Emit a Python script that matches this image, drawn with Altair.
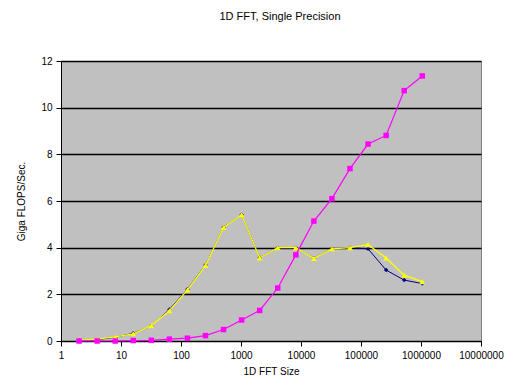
import altair as alt
import pandas as pd

sizes = [2**k for k in range(1, 21)]

magenta_vals = [0.0, 0.0, 0.0, 0.02, 0.03, 0.08, 0.12, 0.23, 0.49, 0.90,
                1.31, 2.27, 3.69, 5.14, 6.10, 7.39, 8.44, 8.81, 10.73, 11.36]
navy_vals = [0.03, 0.06, 0.16, 0.33, 0.64, 1.35, 2.22, 3.26, 4.88, 5.41,
             3.57, 4.00, 4.00, 3.55, 3.95, 4.00, 3.95, 3.04, 2.61, 2.46]
yellow_vals = [0.04, 0.08, 0.18, 0.31, 0.66, 1.30, 2.19, 3.24, 4.87, 5.41,
               3.56, 4.00, 4.00, 3.54, 3.95, 4.00, 4.13, 3.56, 2.82, 2.54]

x_ticks = [1, 10, 100, 1000, 10000, 100000, 1000000, 10000000]
y_ticks = [0, 2, 4, 6, 8, 10, 12]

FONT = "Liberation Sans"

x_scale = alt.Scale(type="log", domain=[1, 10000000])
y_scale = alt.Scale(domain=[0, 12])

x_axis = alt.Axis(values=x_ticks, format="d", title="1D FFT Size", grid=False,
                  domainColor="black", tickColor="black", tickSize=5,
                  labelFont=FONT, labelFontSize=10, labelColor="black",
                  labelPadding=4, labelFlush=False,
                  titleFont=FONT, titleFontSize=10, titleFontWeight="normal",
                  titleColor="black", titlePadding=6)
y_axis = alt.Axis(values=y_ticks, title="Giga FLOPS/Sec.", grid=True,
                  gridColor="black", gridWidth=1.4,
                  domainColor="black", tickColor="black", tickSize=5,
                  labelFont=FONT, labelFontSize=10, labelColor="black",
                  labelPadding=4,
                  titleFont=FONT, titleFontSize=10, titleFontWeight="normal",
                  titleColor="black", titlePadding=14)


def series(vals, color, shape, size, width):
    df = pd.DataFrame({"size": sizes, "gflops": vals})
    x = alt.X("size:Q", scale=x_scale, axis=x_axis)
    y = alt.Y("gflops:Q", scale=y_scale, axis=y_axis)
    base = alt.Chart(df).encode(x=x, y=y)
    line = base.mark_line(color=color, strokeWidth=width)
    pts = base.mark_point(shape=shape, filled=True, color=color, size=size, opacity=1)
    return line + pts


chart = alt.layer(
    series(navy_vals, "#000080", "diamond", 20, 1.0),
    series(yellow_vals, "#FFFF00", "triangle-up", 34, 1.3),
    series(magenta_vals, "#FF00FF", "square", 30, 1.2),
).properties(
    width=420,
    height=280,
    background="white",
    title=alt.TitleParams("1D FFT, Single Precision", font=FONT, fontSize=11,
                          fontWeight="normal", color="black", offset=34, dx=9),
    autosize=alt.AutoSizeParams(type="none"),
    padding={"left": 53, "top": 53, "right": 27, "bottom": 38},
).configure_view(
    fill="#C0C0C0", stroke="#808080", strokeWidth=1
)

chart.save("out.html", embed_options={"renderer": "svg", "actions": False})
